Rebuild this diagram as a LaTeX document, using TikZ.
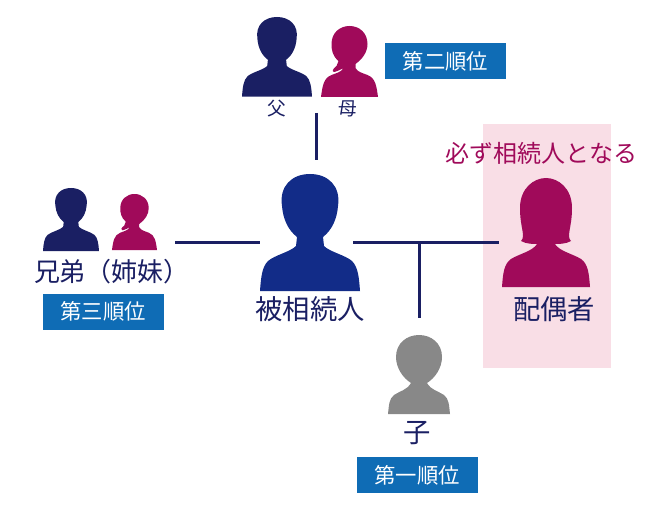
\documentclass[tikz,border=0pt]{standalone}
\usepackage{fontspec}
\setmainfont{Noto Sans CJK JP}
\definecolor{figNavy}{RGB}{26,31,99}
\definecolor{figBlue}{RGB}{18,44,136}
\definecolor{figWine}{RGB}{160,10,90}
\definecolor{figGray}{RGB}{136,136,136}
\definecolor{rankBlue}{RGB}{15,108,181}
\definecolor{spousePink}{RGB}{249,222,230}
\tikzset{
  rankbox/.style={fill=rankBlue,text=white,minimum width=90.75pt,minimum height=27pt,inner sep=0pt,font=\fontsize{16}{19}\selectfont},
  namelabel/.style={text=figNavy,inner sep=0pt,font=\fontsize{20.5}{24}\selectfont},
  smalllabel/.style={text=figNavy,inner sep=0pt,font=\fontsize{14}{17}\selectfont},
  linkline/.style={draw=figNavy,line width=2.25pt},
  malefig/.pic={
    \fill [pic actions] (-50,117) .. controls (-49,103) and (-48,93) .. (-42,87) .. controls (-35,81) and (-20,78) .. (-14,72) -- (-13,63) .. controls (-22,56) and (-27,45) .. (-28,32) .. controls (-31,12) and (-18,0) .. (0,0) .. controls (18,0) and (31,12) .. (28,32) .. controls (27,45) and (22,56) .. (13,63) -- (14,72) .. controls (20,78) and (35,81) .. (42,87) .. controls (48,93) and (49,103) .. (50,117) -- cycle ;
  },
  ponytailfig/.pic={
    \fill [pic actions] (-28.5,71) .. controls (-27,60) and (-26,52) .. (-18,49) .. controls (-13,47) and (-8,46) .. (-6,42) .. controls (-9,44) and (-12,45) .. (-15,46) .. controls (-18,46) and (-17,43) .. (-13,40) -- (-11,35) .. controls (-17,30) and (-18,24) .. (-18,18) .. controls (-18,7) and (-10,0) .. (0,0) .. controls (10,0) and (18,7) .. (18,18) .. controls (18,26) and (13,33) .. (6,38) -- (6,42) .. controls (8,46) and (13,47) .. (18,49) .. controls (26,52) and (27,60) .. (28.5,71) -- cycle ;
  },
  longhairfig/.pic={
    \fill [pic actions] (-44,109) .. controls (-43,95) and (-42,86) .. (-35,81) .. controls (-27,76) and (-13,73) .. (-9,66) .. controls (-13,66) and (-20,66) .. (-25,63) .. controls (-20,58) and (-26,50) .. (-26,30) .. controls (-26,10) and (-12,0) .. (0,0) .. controls (12,0) and (26,10) .. (26,30) .. controls (26,50) and (20,58) .. (25,63) .. controls (20,66) and (13,66) .. (9,66) .. controls (13,73) and (27,76) .. (35,81) .. controls (42,86) and (43,95) .. (44,109) -- cycle ;
  },
  childfig/.pic={
    \fill [pic actions] (-31,79) .. controls (-30,70) and (-30,64) .. (-25,60) .. controls (-19,56) and (-12,55) .. (-8,48) .. controls (-16,43) and (-23,33) .. (-23,22) .. controls (-23,8) and (-12,0) .. (0,0) .. controls (12,0) and (23,8) .. (23,22) .. controls (23,33) and (16,43) .. (8,48) .. controls (12,55) and (19,56) .. (25,60) .. controls (30,64) and (30,70) .. (31,79) -- cycle ;
  },
}
\begin{document}
\begin{tikzpicture}[x=0.75pt,y=0.75pt,yscale=-1,xscale=1]
\useasboundingbox (0,0) rectangle (672,510);

%Shape: Rectangle
\fill [spousePink] (483,124) rectangle (611,368);

%Figures
\pic (deceased) [fill=figBlue,transform shape] at (310,174) {malefig};
\pic (father) [fill=figNavy,transform shape,xscale=0.7,yscale=0.68] at (277,17) {malefig};
\pic (mother) [fill=figWine,transform shape] at (349.5,26) {ponytailfig};
\pic (brother) [fill=figNavy,transform shape,xscale=0.56,yscale=0.54] at (71,188) {malefig};
\pic (sister) [fill=figWine,transform shape,xscale=0.79,yscale=0.79] at (134.5,194) {ponytailfig};
\pic (spouse) [fill=figWine,transform shape] at (546,178) {longhairfig};
\pic (child) [fill=figGray,transform shape] at (419,335) {childfig};

%Coordinates
\coordinate (parentsend) at (316,113);
\coordinate (parentsjoin) at (316,160);
\coordinate (siblingsend) at (175,242);
\coordinate (siblingsjoin) at (260,242);
\coordinate (spouseleft) at (353,242);
\coordinate (spouseright) at (499,242);
\coordinate (childjoin) at (419,242);
\coordinate (childend) at (419,318);

%Straight Lines
\draw [linkline] (parentsend) -- (parentsjoin) ;
\draw [linkline] (siblingsend) -- (siblingsjoin) ;
\draw [linkline] (spouseleft) -- (spouseright) ;
\draw [linkline] (childjoin) -- (childend) ;

% Text Node
\node (fatherlabel) [smalllabel] at (277,109) {父};
\node (motherlabel) [smalllabel] at (348,109) {母};
\node (siblingslabel) [namelabel,font=\fontsize{19.5}{23}\selectfont] at (112,272) {兄弟（姉妹）};
\node (deceasedlabel) [namelabel] at (310,309) {被相続人};
\node (spouselabel) [namelabel] at (554,309) {配偶者};
\node (childlabel) [namelabel] at (417,433) {子};
\node (alwayslabel) [text=figWine,inner sep=0pt,font=\fontsize{18}{21}\selectfont] at (541.5,153) {必ず相続人となる};
\node (rankone) [rankbox] at (417,475) {第一順位};
\node (ranktwo) [rankbox] at (445.5,61) {第二順位};
\node (rankthree) [rankbox] at (103,311.5) {第三順位};

\end{tikzpicture}
\end{document}
